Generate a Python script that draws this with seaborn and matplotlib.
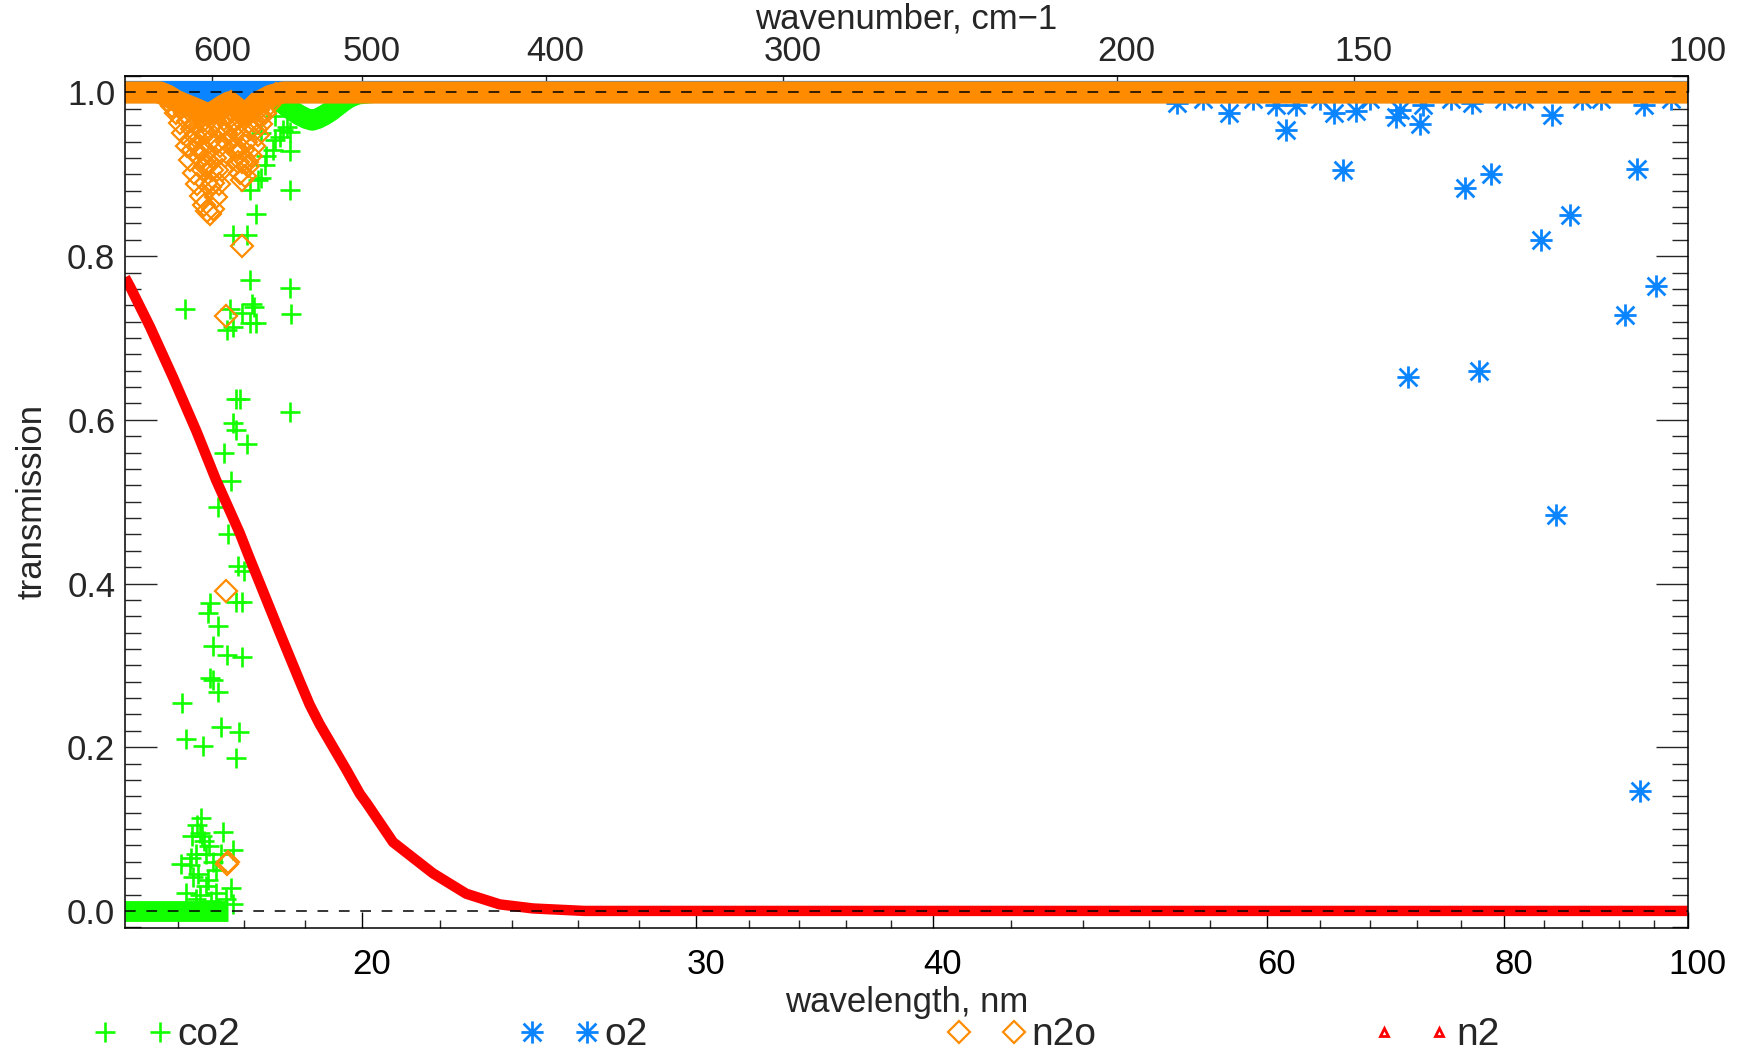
import matplotlib
matplotlib.use("Agg")
import matplotlib.pyplot as plt
from matplotlib.path import Path
from matplotlib.lines import Line2D
from matplotlib.transforms import ScaledTranslation
from matplotlib.ticker import (FixedLocator, FixedFormatter, NullFormatter,
                               NullLocator, MultipleLocator, FormatStrFormatter)
import seaborn as sns

# ---------------- data ----------------
# N2 continuum transmission (wavelength in nm)
n2_wl = [15.0, 15.09, 15.46, 15.90, 16.36, 16.75, 17.24, 17.45, 17.67,
         18.10, 18.55, 18.77, 19.00, 19.63, 19.95, 20.11, 20.77, 21.80, 22.70,
         23.64, 24.62, 26.2, 30.0, 40.0, 60.0, 80.0, 100.0]
n2_tr = [0.774, 0.763, 0.714, 0.652, 0.586, 0.527, 0.462, 0.431, 0.400,
         0.340, 0.280, 0.252, 0.228, 0.172, 0.143, 0.132, 0.084, 0.046, 0.021,
         0.008, 0.003, 0.0, 0.0, 0.0, 0.0, 0.0, 0.0]

# CO2: opaque floor, near-unity shoulder and individual samples
co2_floor_wl = [15.0, 17.0]
co2_floor_tr = [0.0, 0.0]
co2_top_wl = [17.95, 18.1, 18.25, 18.4, 18.55, 18.7, 18.83, 18.95, 19.1, 19.25,
              19.4, 19.55, 19.7, 19.9, 20.3, 100.0]
co2_top_tr = [0.998, 0.99, 0.983, 0.977, 0.972, 0.968, 0.966, 0.968, 0.972, 0.977,
              0.983, 0.989, 0.994, 0.998, 1.0, 1.0]
co2_wl = [17.59, 17.10, 17.39, 17.45, 18.32, 18.32, 17.45, 17.70, 17.80, 18.00,
          18.17, 18.33, 17.50, 17.63, 17.77, 17.95, 18.10, 18.25, 17.70, 18.00,
          18.17,
          16.13, 17.03, 17.30, 17.54, 16.97, 17.10, 17.45, 17.59, 18.33, 18.35,
          17.16, 17.24, 18.33, 17.10, 17.16, 17.39, 16.92, 17.06, 16.79, 17.00,
          17.20, 17.34,
          16.08, 16.16, 16.50, 16.85, 17.23, 17.16, 16.63, 16.70, 16.79, 16.70,
          16.97, 17.28, 16.80, 16.63, 16.60, 17.16, 17.30,
          16.45, 16.43, 16.90, 17.10, 16.62, 16.05, 16.23, 16.36, 16.56, 16.30,
          16.60, 16.75, 17.06, 16.47, 16.28, 16.85, 16.16, 16.43, 16.75, 17.10,
          16.38, 16.52, 16.25, 16.70, 16.40, 16.55, 16.35, 16.65, 16.95]
co2_tr = [0.852, 0.826, 0.826, 0.771, 0.881, 0.928, 0.881, 0.895, 0.922, 0.942,
          0.954, 0.952, 0.742, 0.893, 0.911, 0.930, 0.946, 0.958, 0.950, 0.971,
          0.983,
          0.735, 0.736, 0.730, 0.738, 0.710, 0.714, 0.718, 0.718, 0.761, 0.729,
          0.625, 0.626, 0.609, 0.596, 0.588, 0.571, 0.560, 0.525, 0.494, 0.461,
          0.421, 0.415,
          0.254, 0.210, 0.201, 0.225, 0.219, 0.187, 0.284, 0.282, 0.267, 0.324,
          0.313, 0.310, 0.348, 0.376, 0.364, 0.378, 0.378,
          0.113, 0.095, 0.097, 0.075, 0.079, 0.057, 0.056, 0.070, 0.070, 0.042,
          0.038, 0.050, 0.028, 0.091, 0.091, 0.070, 0.022, 0.020, 0.022, 0.009,
          0.105, 0.085, 0.065, 0.060, 0.045, 0.030, 0.015, 0.012, 0.015]

# O2: unity baseline and individual samples in the long-wavelength range
o2_base_wl = [15.0, 100.0]
o2_base_tr = [1.0, 1.0]
o2_wl = [53.8, 57.3, 61.4, 60.7, 62.2, 65.1, 66.9, 65.8, 70.2, 70.5,
         72.3, 72.5, 71.2, 76.3, 78.8, 77.6, 77.0, 84.8, 83.7, 86.7,
         94.0, 92.7, 96.3, 94.8, 85.2, 94.4,
         55.5, 59.0, 64.0, 68.0, 75.0, 80.0, 82.0, 88.0, 90.0, 98.0]
o2_tr = [0.987, 0.975, 0.954, 0.985, 0.985, 0.975, 0.977, 0.905, 0.970, 0.979,
         0.962, 0.985, 0.652, 0.883, 0.901, 0.660, 0.987, 0.972, 0.820, 0.850,
         0.907, 0.728, 0.763, 0.985, 0.484, 0.147,
         0.992, 0.992, 0.992, 0.992, 0.992, 0.992, 0.992, 0.992, 0.992, 0.992]

# N2O: upper envelope of the dense sampling, plus band samples
n2o_env_wl = [15.0, 15.65, 15.80, 15.95, 16.10, 16.30, 16.45, 16.60, 16.75, 16.90,
              17.03, 17.18, 17.34, 17.50, 17.70, 17.90, 18.17, 100.0]
n2o_env_tr = [1.0, 1.0, 0.996, 0.990, 0.986, 0.981, 0.977, 0.973, 0.978, 0.984,
              0.988, 0.981, 0.973, 0.980, 0.990, 0.996, 1.0, 1.0]
n2o_wl = [15.72, 15.80, 15.88, 15.96, 16.04, 16.10, 16.17, 16.24, 16.31, 16.38,
          16.45, 16.52, 16.58, 16.64,
          16.70, 16.76, 16.82, 16.88, 16.93, 16.98, 17.02, 17.04, 17.06,
          16.20, 16.28, 16.36, 16.44, 16.52, 16.60, 16.68, 16.74, 16.80, 16.86,
          16.92, 16.40, 16.50, 16.58, 16.66, 16.74, 16.48, 16.56, 16.64, 16.70,
          16.44, 16.62, 16.30, 16.56, 16.72, 16.14, 16.22, 16.34, 16.48, 16.84,
          16.96, 16.06, 16.26, 16.54, 16.78,
          17.08, 17.12, 17.16, 17.20, 17.25, 17.30,
          17.36, 17.42, 17.48, 17.55, 17.62, 17.70, 17.78, 17.86, 17.94, 18.02,
          17.18, 17.26, 17.32, 17.38, 17.46, 17.54, 17.62, 17.26, 17.34, 17.42,
          17.50, 17.40, 17.30, 17.14, 17.22, 17.58, 17.68,
          17.28, 16.95, 16.95, 16.97, 16.99]
n2o_tr = [0.996, 0.990, 0.983, 0.975, 0.963, 0.950, 0.935, 0.918, 0.902, 0.888,
          0.874, 0.862, 0.855, 0.851,
          0.858, 0.872, 0.888, 0.905, 0.922, 0.940, 0.960, 0.978, 0.988,
          0.965, 0.955, 0.945, 0.935, 0.925, 0.915, 0.905, 0.920, 0.940, 0.955,
          0.968, 0.975, 0.965, 0.972, 0.960, 0.965, 0.905, 0.890, 0.885, 0.890,
          0.920, 0.940, 0.930, 0.950, 0.945, 0.975, 0.970, 0.962, 0.952, 0.935,
          0.950, 0.982, 0.942, 0.910, 0.905,
          0.965, 0.948, 0.932, 0.915, 0.902, 0.893,
          0.898, 0.910, 0.922, 0.935, 0.948, 0.962, 0.975, 0.985, 0.993, 0.998,
          0.960, 0.945, 0.930, 0.940, 0.955, 0.965, 0.978, 0.975, 0.972, 0.975,
          0.985, 0.915, 0.915, 0.975, 0.925, 0.955, 0.972,
          0.812, 0.727, 0.391, 0.057, 0.060]

# axis ticks
wl_major = [20, 30, 40, 60, 80, 100]
wl_minor = [16, 17.333, 18.667, 22, 24, 26, 28, 32, 34, 36, 38, 44, 48, 52, 56,
            64, 68, 72, 76, 84, 88, 92, 96]
wn_major = [600, 500, 400, 300, 200, 150, 100]

species = ["co2", "o2", "n2o", "n2"]

# ---------------- style ----------------
GREEN = "#12ff00"
BLUE = "#0a84ff"
ORANGE = "#ff8c00"
RED = "#ff0000"

sns.set_style("ticks")
plt.rcParams["font.family"] = ["Liberation Sans", "DejaVu Sans"]
plt.rcParams["axes.linewidth"] = 1.1

_d = 0.8
ASTERISK = Path([(0, -1), (0, 1), (-1, 0), (1, 0), (-_d, -_d), (_d, _d), (-_d, _d), (_d, -_d)],
                [Path.MOVETO, Path.LINETO] * 4)

fig = plt.figure(figsize=(17.39, 10.52), dpi=100)
W, H = 1739, 1052
ax = fig.add_axes([125 / W, 1 - 927.7 / H, (1687.5 - 125) / W, (927.7 - 75.7) / H])
ax.set_xscale("log")
ax.set_axisbelow(True)


def band(x, y, color, lw, z):
    sns.lineplot(x=x, y=y, ax=ax, color=color, linewidth=lw, estimator=None,
                 sort=False, solid_capstyle="butt", solid_joinstyle="round",
                 zorder=z, legend=False)


def points(x, y, marker, color, ms, mew, z):
    sns.lineplot(x=x, y=y, ax=ax, color=color, linestyle="none", marker=marker,
                 markersize=ms, markeredgewidth=mew, markeredgecolor=color,
                 markerfacecolor="none", estimator=None, sort=False, zorder=z,
                 legend=False)


# CO2
band(co2_floor_wl, co2_floor_tr, GREEN, 15, 2.00)
band(co2_top_wl, co2_top_tr, GREEN, 15, 2.00)
points(co2_wl, co2_tr, "+", GREEN, 15, 1.9, 2.05)
# O2
band(o2_base_wl, o2_base_tr, BLUE, 16, 2.10)
points(o2_wl, o2_tr, ASTERISK, BLUE, 16, 2.0, 2.15)
# N2O
band(n2o_env_wl, n2o_env_tr, ORANGE, 16, 2.20)
points(n2o_wl, n2o_tr, "D", ORANGE, 11, 1.6, 2.25)
# N2
band(n2_wl, n2_tr, RED, 7.5, 2.30)

# reference levels
for lvl in (0.0, 1.0):
    ax.axhline(lvl, color="black", lw=1.1, ls=(0, (7, 7)), zorder=3)

ax.set_xlim(15, 100)
ax.set_ylim(-0.0205, 1.0205)

ax.xaxis.set_major_locator(FixedLocator(wl_major))
ax.xaxis.set_major_formatter(FixedFormatter([str(v) for v in wl_major]))
ax.xaxis.set_minor_locator(FixedLocator(wl_minor))
ax.xaxis.set_minor_formatter(NullFormatter())
ax.yaxis.set_major_locator(MultipleLocator(0.2))
ax.yaxis.set_minor_locator(MultipleLocator(0.02))
ax.yaxis.set_major_formatter(FormatStrFormatter("%.1f"))

ax.tick_params(axis="x", which="major", direction="in", length=11.5, width=1.0,
               top=False, bottom=True, pad=14.5, labelsize=25, colors="black")
ax.tick_params(axis="x", which="minor", direction="in", length=5.8, width=1.0,
               top=False, bottom=True)
ax.tick_params(axis="y", which="major", direction="in", length=23, width=1.0,
               left=True, right=True, pad=7, labelsize=25)
ax.tick_params(axis="y", which="minor", direction="in", length=11.3, width=1.0,
               left=True, right=True)

for s in ax.spines.values():
    s.set_color("black")
    s.set_linewidth(1.1)

ax.set_xlabel("wavelength, nm", fontsize=25, labelpad=3.6)
ax.set_ylabel("transmission", fontsize=25, labelpad=13.4)

# wavenumber scale along the top (1e4 / wavelength)
top = ax.secondary_xaxis("top", functions=(lambda w: 1e4 / w, lambda k: 1e4 / k))
top.set_xticks(wn_major)
top.set_xticklabels([str(v) for v in wn_major])
top.xaxis.set_minor_locator(NullLocator())
top.tick_params(axis="x", which="major", direction="in", length=11.5, width=1.0,
                pad=5.9, labelsize=25)
top.set_xlabel("wavenumber, cm\u22121", fontsize=25, labelpad=4.0)

# tick numbers sit slightly right of their ticks
shift = ScaledTranslation(0.10, 0, fig.dpi_scale_trans)
for lab in list(ax.get_xticklabels()) + list(top.get_xticklabels()):
    lab.set_transform(lab.get_transform() + shift)

# legend row: each entry shows the symbol twice followed by the name
handles = [
    Line2D([], [], linestyle="none", marker="+", markersize=15, markeredgewidth=1.9,
           color=GREEN),
    Line2D([], [], linestyle="none", marker=ASTERISK, markersize=16, markeredgewidth=2.0,
           color=BLUE, markerfacecolor="none"),
    Line2D([], [], linestyle="none", marker="D", markersize=11, markeredgewidth=1.6,
           color=ORANGE, markerfacecolor="none"),
    Line2D([], [], linestyle="none", marker="^", markersize=6, markeredgewidth=2.0,
           color=RED, markerfacecolor="none"),
]
anchors_px = [93.3, 520.6, 947.6, 1372.3]
for h, name, xa in zip(handles, species, anchors_px):
    fig.legend(handles=[h], labels=[name], loc="center left",
               bbox_to_anchor=(xa / W, 0.016), numpoints=2, handlelength=2.014,
               handletextpad=0.136, borderpad=0, borderaxespad=0, frameon=False,
               fontsize=28)

fig.savefig("out.png", dpi=100)
